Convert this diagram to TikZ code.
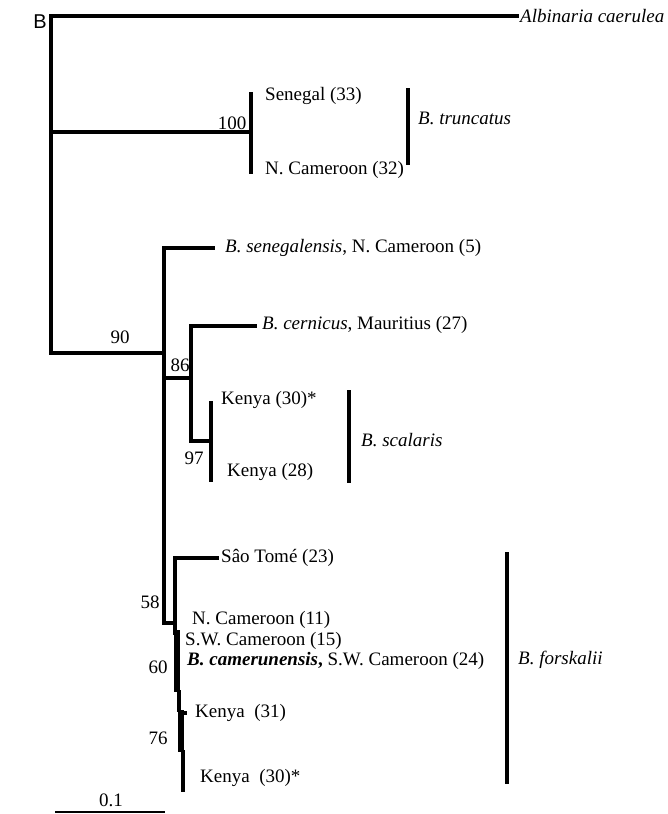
\documentclass[tikz,border=0pt]{standalone}
\usepackage{fontspec}
\setmainfont{Liberation Serif}
\newfontfamily\panelfont{Liberation Sans}
\usetikzlibrary{positioning}

\begin{document}
\begin{tikzpicture}[x=1pt,y=-1pt,
  branch/.style={line width=3.5pt,line cap=rect},
  heavy/.style={line width=5.5pt},
  groupbar/.style={line width=3.5pt},
  taxon/.style={anchor=west,inner sep=0pt,font=\fontsize{19}{21}\selectfont},
  support/.style={inner sep=0pt,font=\fontsize{19}{21}\selectfont}]
  \useasboundingbox (0,0) rectangle (667,814);
  \node[font=\panelfont\fontsize{20}{22}\selectfont] (panel) at (40,22) {B};

  % outgroup and B. truncatus
  \coordinate (albtip) at (517,16);
  \coordinate (rootlow) at (51,353);
  \coordinate (roottrunc) at (51,132);
  \coordinate (ntrunc) at (251,132);
  \coordinate (sgltip) at (251,94);
  \coordinate (ncamtip) at (251,172);
  \draw[branch] (albtip) -| (rootlow);
  \draw[branch] (roottrunc) -- (ntrunc);
  \draw[branch] (sgltip) -- (ncamtip);
  \node[taxon] (alb) at (520,16) {\itshape Albinaria caerulea};
  \node[taxon] (sgl) at (265,96) {Senegal (33)};
  \node[taxon] (ncam32) at (265,170) {N. Cameroon (32)};
  \node[support] (bs100) at (232,123) {100};

  % B. senegalensis, B. cernicus, B. scalaris
  \coordinate (n90) at (164,353);
  \coordinate (sentip) at (213,248);
  \coordinate (n58) at (164,623);
  \coordinate (n86base) at (164,378);
  \coordinate (n86) at (191,378);
  \coordinate (cerntip) at (255,326);
  \coordinate (n97base) at (191,441);
  \coordinate (n97) at (211,441);
  \coordinate (k30tip) at (211,403);
  \coordinate (k28tip) at (211,480);
  \draw[branch] (rootlow) -- (n90);
  \draw[branch] (sentip) -| (n58);
  \draw[branch] (n86base) -- (n86);
  \draw[branch] (cerntip) -| (n97base) -- (n97);
  \draw[branch] (k30tip) -- (k28tip);
  \node[taxon] (sen) at (225,248) {\itshape B. senegalensis\upshape, N. Cameroon (5)};
  \node[taxon] (cern) at (262,325) {\itshape B. cernicus\upshape, Mauritius (27)};
  \node[taxon] (ken30a) at (221,400) {Kenya (30)*};
  \node[taxon] (ken28) at (227,472) {Kenya (28)};
  \node[support] (bs90) at (120,337) {90};
  \node[support] (bs86) at (180,365) {86};
  \node[support] (bs97) at (194,458) {97};

  % B. forskalii
  \coordinate (n58r) at (175,623);
  \coordinate (sttip) at (217,558);
  \coordinate (n60top) at (175,633);
  \coordinate (n60a) at (177,630);
  \coordinate (n60b) at (177,692);
  \coordinate (n76a) at (179,692);
  \coordinate (n76b) at (179,710);
  \coordinate (n76c) at (181,710);
  \coordinate (n76d) at (181,752);
  \coordinate (k30bota) at (183,752);
  \coordinate (k30bot) at (183,790);
  \coordinate (k31tip) at (185,713);
  \coordinate (k31base) at (181,713);
  \draw[branch] (n58) -- (n58r);
  \draw[branch] (sttip) -| (n60top);
  \draw[heavy] (n60a) -- (n60b);
  \draw[branch] (n76a) -- (n76b);
  \draw[heavy] (n76c) -- (n76d);
  \draw[branch] (k30bota) -- (k30bot);
  \draw[branch] (k31base) -- (k31tip);
  \node[taxon] (stome) at (221,558) {Sâo Tomé (23)};
  \node[taxon] (ncam11) at (192,620) {N. Cameroon (11)};
  \node[taxon] (swc15) at (185,641) {S.W. Cameroon (15)};
  \node[taxon] (camer) at (187,661) {\bfseries\itshape B. camerunensis\upshape, \mdseries S.W. Cameroon (24)};
  \node[taxon] (ken31) at (195,713) {Kenya\ \ (31)};
  \node[taxon] (ken30b) at (200,778) {Kenya\ \ (30)*};
  \node[support] (bs58) at (150,602) {58};
  \node[support] (bs60) at (158,667) {60};
  \node[support] (bs76) at (158,738) {76};

  % group bars
  \coordinate (trtop) at (408,88);
  \coordinate (trbot) at (408,165);
  \coordinate (sctop) at (349,390);
  \coordinate (scbot) at (349,483);
  \coordinate (fotop) at (507,552);
  \coordinate (fobot) at (507,784);
  \draw[groupbar] (trtop) -- (trbot);
  \draw[groupbar] (sctop) -- (scbot);
  \draw[groupbar] (fotop) -- (fobot);
  \node[taxon] (trunc) at (418,118) {\itshape B. truncatus};
  \node[taxon] (scal) at (361,440) {\itshape B. scalaris};
  \node[taxon] (forsk) at (518,660) {\itshape B. forskalii};

  % scale bar
  \coordinate (sbl) at (55,812);
  \coordinate (sbr) at (165,812);
  \draw[line width=1.5pt] (sbl) -- (sbr);
  \node[support] (sblab) at (111,800) {0.1};
\end{tikzpicture}
\end{document}
